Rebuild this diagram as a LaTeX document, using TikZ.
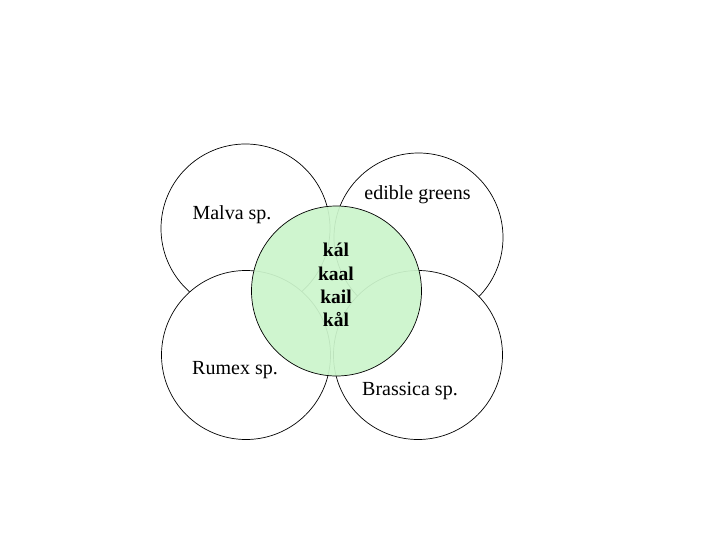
\documentclass[tikz,border=0pt]{standalone}
\usepackage{fontspec}
\setmainfont{Liberation Serif}
\definecolor{lightgreen}{RGB}{204,245,204}
\begin{document}
\begin{tikzpicture}[x=1pt,y=-1pt,
  ring/.style={circle,draw=black,fill=white,line width=0.7pt,minimum size=169pt,inner sep=0pt},
  core/.style={circle,draw=black,line width=0.7pt,fill=lightgreen,fill opacity=0.93,draw opacity=1,minimum size=170pt,inner sep=0pt},
  lbl/.style={font=\fontsize{20}{22}\selectfont,inner sep=0pt},
  blbl/.style={font=\fontsize{19.5}{23.3}\selectfont\bfseries,align=center,inner sep=0pt}]
\useasboundingbox (0,0) rectangle (720,540);
\node[ring] (tl) at (245.5,228.5) {};
\node[ring] (tr) at (418.5,237.5) {};
\node[ring] (bl) at (246,355) {};
\node[ring] (br) at (418,355) {};
\node[core] (c) at (336.5,291) {};
\node[blbl] (words) at (336,285) {kál\\kaal\\kail\\kål};
\node[lbl] (malva) at (232,215) {Malva sp.};
\node[lbl] (edible) at (417.5,195) {edible greens};
\node[lbl] (rumex) at (235,370) {Rumex sp.};
\node[lbl] (brassica) at (410,391) {Brassica sp.};
\end{tikzpicture}
\end{document}
